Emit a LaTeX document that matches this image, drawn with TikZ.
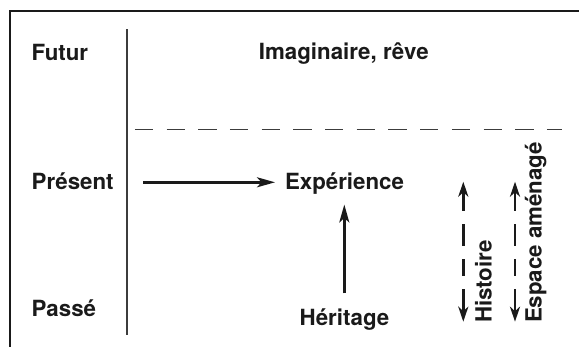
\documentclass[tikz,border=0pt]{standalone}
\usepackage{fontspec}
\setmainfont{TeX Gyre Heros}
\usetikzlibrary{arrows.meta}
\definecolor{ink}{HTML}{1A1A1A}
\tikzset{
  lbl/.style={inner sep=0pt, outer sep=0pt, text=ink, font=\fontsize{22.3pt}{26pt}\selectfont\bfseries},
  arr/.style={draw=ink, line width=2.5pt, -{Stealth[length=18pt,width=10pt,inset=4.5pt]}},
  darr/.style={draw=ink, line width=2.8pt, {Stealth[length=15pt,width=10pt,inset=4.5pt]}-{Stealth[length=15pt,width=10pt,inset=4.5pt]},
    dash pattern=on 20pt off 13.3pt on 21.7pt off 13.3pt on 16.7pt off 13.3pt on 40pt},
  frame/.style={draw=ink, line width=1.7pt},
  divider/.style={draw=ink!85, line width=1.6pt},
  future/.style={draw=ink!85, line width=1.4pt, dash pattern=on 18.3pt off 13.4pt}
}
\begin{document}
\begin{tikzpicture}[x=1pt,y=-1pt]
\useasboundingbox (0,0) rectangle (579,347);
% frame
\coordinate (ftr) at (579,10.7);
\coordinate (ftl) at (9.7,10.7);
\coordinate (fbl) at (9.7,347);
\draw[frame] (ftr) -- (ftl) -- (fbl);
% divider
\coordinate (dtop) at (126.7,29.3);
\coordinate (dbot) at (126.7,335);
\draw[divider] (dtop) -- (dbot);
% dashed horizon
\coordinate (hl) at (134.8,129.3);
\coordinate (hr) at (562,129.3);
\draw[future] (hl) -- (hr);
% labels
\node[lbl, anchor=base west] (futur) at (31.7,60.7) {Futur};
\node[lbl, anchor=base] (imag) at (343.8,60) {Imaginaire, rêve};
\node[lbl, anchor=base west] (present) at (31.7,189.3) {Présent};
\node[lbl, anchor=base west] (passe) at (31.7,316.7) {Passé};
\node[lbl, anchor=base west] (exp) at (285,189.3) {Expérience};
\node[lbl, anchor=base] (her) at (344.5,326) {Héritage};
\node[lbl, anchor=base west, rotate=90] (hist) at (491.7,323) {Histoire};
\node[lbl, anchor=base west, rotate=90] (esp) at (541.7,323) {Espace aménagé};
% arrows
\coordinate (hs) at (143.3,182.3);
\draw[arr, shorten >=10pt] (hs) -- (hs -| exp.west);
\coordinate (vs) at (344.3,293.3);
\coordinate (ve) at (344.3,204.5);
\draw[arr] (vs) -- (ve);
\coordinate (h1) at (463.3,181.7);
\coordinate (h2) at (463.3,321.7);
\draw[darr] (h1) -- (h2);
\coordinate (e1) at (515,181.7);
\coordinate (e2) at (515,321.7);
\draw[darr] (e1) -- (e2);
\end{tikzpicture}
\end{document}
